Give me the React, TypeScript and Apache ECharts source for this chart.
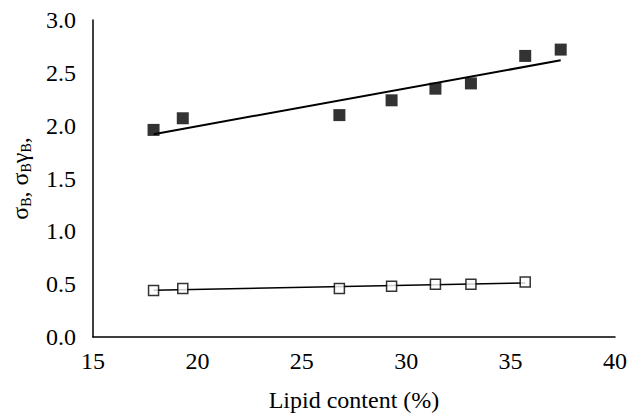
import React, { useEffect, useRef } from "react";
import * as echarts from "echarts";

const lipidFilled = [17.9, 19.3, 26.8, 29.3, 31.4, 33.1, 35.7, 37.4];
const sigmaB = [1.96, 2.07, 2.1, 2.24, 2.35, 2.4, 2.66, 2.72];
const lipidOpen = [17.9, 19.3, 26.8, 29.3, 31.4, 33.1, 35.7];
const sigmaGammaB = [0.44, 0.46, 0.46, 0.48, 0.5, 0.5, 0.52];
const xTicks = [15, 20, 25, 30, 35, 40];
const yTicks = [0, 0.5, 1, 1.5, 2, 2.5, 3];

function fitLine(xs: number[], ys: number[]) {
  const n = xs.length;
  const mx = xs.reduce((a, b) => a + b, 0) / n;
  const my = ys.reduce((a, b) => a + b, 0) / n;
  let sxy = 0, sxx = 0;
  for (let i = 0; i < n; i++) {
    sxy += (xs[i] - mx) * (ys[i] - my);
    sxx += (xs[i] - mx) * (xs[i] - mx);
  }
  const slope = sxy / sxx;
  const icpt = my - slope * mx;
  const x0 = Math.min(...xs), x1 = Math.max(...xs);
  return [[x0, icpt + slope * x0], [x1, icpt + slope * x1]];
}

const FONT = "'Liberation Serif', 'Times New Roman', 'DejaVu Serif', serif";

export default function App() {
  const ref = useRef<HTMLDivElement>(null);
  useEffect(() => {
    if (!ref.current) return;
    const chart = echarts.init(ref.current, null, { renderer: "svg" });
    chart.setOption({
      animation: false,
      backgroundColor: "#fff",
      textStyle: { fontFamily: FONT },
      grid: { left: 90, right: 13, top: 20, bottom: 81 },
      xAxis: {
        type: "value",
        min: xTicks[0],
        max: xTicks[xTicks.length - 1],
        interval: 5,
        name: "Lipid content (%)",
        nameLocation: "middle",
        nameGap: 51,
        nameTextStyle: { fontFamily: FONT, fontSize: 24, color: "#000" },
        axisLine: { lineStyle: { color: "#000", width: 1.5 } },
        axisTick: { show: false },
        splitLine: { show: false },
        axisLabel: { fontFamily: FONT, fontSize: 24, color: "#000", margin: 12 },
      },
      yAxis: {
        type: "value",
        min: yTicks[0],
        max: yTicks[yTicks.length - 1],
        interval: 0.5,
        name: "{s|σ}{b|B}{s|, σ}{b|B}{s|γ}{b|B}{s|,}",
        nameLocation: "middle",
        nameRotate: 90,
        nameGap: 60,
        nameTextStyle: {
          fontFamily: FONT,
          color: "#000",
          rich: {
            s: { fontFamily: FONT, fontSize: 24, color: "#000", lineHeight: 26 },
            b: { fontFamily: FONT, fontSize: 14, color: "#000", verticalAlign: "bottom", lineHeight: 16, padding: [10, 0, 0, 0] },
          },
        },
        axisLine: { show: true, lineStyle: { color: "#000", width: 1.5 } },
        axisTick: { show: false },
        splitLine: { show: false },
        axisLabel: {
          fontFamily: FONT,
          fontSize: 24,
          color: "#000",
          margin: 17,
          formatter: (v: number) => v.toFixed(1),
        },
      },
      series: [
        {
          type: "line",
          data: fitLine(lipidFilled, sigmaB),
          symbol: "none",
          lineStyle: { color: "#000", width: 2 },
          z: 1,
        },
        {
          type: "line",
          data: fitLine(lipidOpen, sigmaGammaB),
          symbol: "none",
          lineStyle: { color: "#000", width: 1.5 },
          z: 1,
        },
        {
          type: "scatter",
          data: lipidFilled.map((x, i) => [x, sigmaB[i]]),
          symbol: "rect",
          symbolSize: 12,
          itemStyle: { color: "#000" },
          z: 3,
        },
        {
          type: "scatter",
          data: lipidOpen.map((x, i) => [x, sigmaGammaB[i]]),
          symbol: "rect",
          symbolSize: 10,
          itemStyle: { color: "#fff", borderColor: "#000", borderWidth: 1.5 },
          z: 3,
        },
      ],
    });
    return () => chart.dispose();
  }, []);
  return <div ref={ref} style={{ width: 630, height: 418, position: "absolute", left: 0, top: 0 }} />;
}
